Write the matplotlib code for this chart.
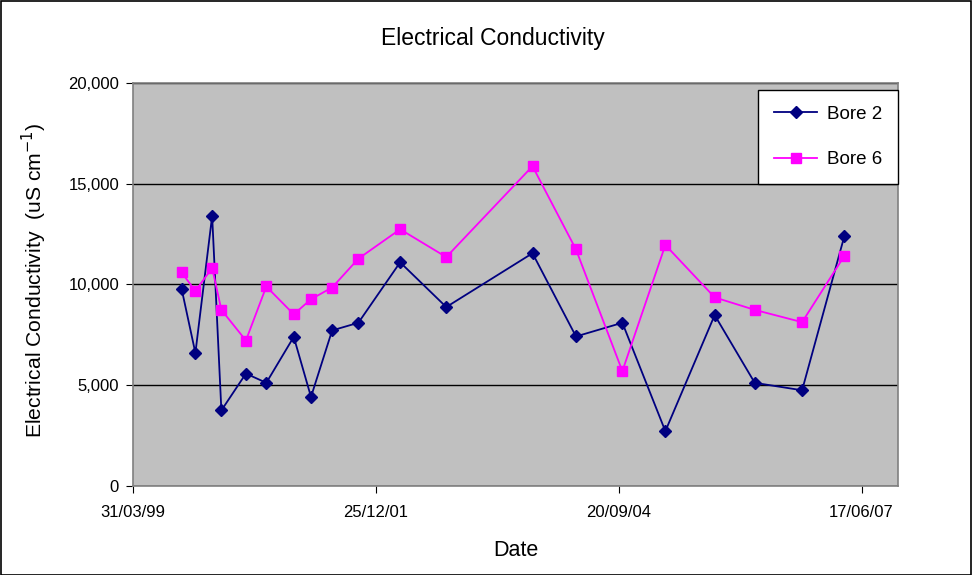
import numpy as np
import pandas as pd
import matplotlib
matplotlib.use("Agg")
import matplotlib.pyplot as plt
import matplotlib.dates as mdates
from matplotlib.ticker import FuncFormatter, FixedLocator

plt.rcParams['font.family'] = ['Liberation Sans', 'DejaVu Sans']

# Sampling dates and EC readings (uS/cm) for the two bores
dates = ["1999-10-17", "1999-12-13", "2000-02-20", "2000-03-29", "2000-07-08",
         "2000-09-30", "2001-01-21", "2001-04-02", "2001-06-28", "2001-10-14",
         "2002-04-04", "2002-10-11", "2003-10-01", "2004-03-28", "2004-10-05",
         "2005-03-31", "2005-10-20", "2006-04-03", "2006-10-15", "2007-04-07"]
bore2 = [9800, 6600, 13400, 3750, 5580, 5120, 7400, 4420, 7720, 8100,
         11100, 8880, 11550, 7420, 8100, 2720, 8480, 5120, 4750, 12400]
bore6 = [10600, 9680, 10820, 8740, 7220, 9900, 8520, 9270, 9850, 11280,
         12740, 11360, 15870, 11740, 5700, 11960, 9360, 8740, 8130, 11420]
tick_dates = ["1999-03-31", "2001-12-25", "2004-09-20", "2007-06-17"]

d = pd.to_datetime(dates)
ticks = mdates.date2num(pd.to_datetime(tick_dates))

fig = plt.figure(figsize=(9.72, 5.75), dpi=100)
fig.patches.append(plt.Rectangle((0.001, 0.0), 0.998, 0.998, transform=fig.transFigure,
                                 fill=False, edgecolor="black", linewidth=1.2))

ax = fig.add_axes([0.1368, 0.1548, 0.9239 - 0.1368, 0.8557 - 0.1548])
ax.set_facecolor("#C0C0C0")

ax.plot(d, bore2, color="#000080", marker="D", markersize=6.5, linewidth=1.3,
        label="Bore 2", zorder=3)
ax.plot(d, bore6, color="#FF00FF", marker="s", markersize=7, linewidth=1.3,
        label="Bore 6", zorder=3)

ax.set_xlim(mdates.date2num(pd.Timestamp("1999-03-31")), mdates.date2num(pd.Timestamp("2007-11-14")))
ax.set_ylim(0, 20000)
ax.xaxis.set_major_locator(FixedLocator(ticks))
ax.xaxis.set_major_formatter(mdates.DateFormatter("%d/%m/%y"))
ax.yaxis.set_major_locator(FixedLocator([0, 5000, 10000, 15000, 20000]))
ax.yaxis.set_major_formatter(FuncFormatter(lambda v, p: f"{int(v):,}"))

ax.grid(axis="y", color="black", linewidth=1.0)
ax.set_axisbelow(True)
for s in ax.spines.values():
    s.set_color("#808080")
    s.set_linewidth(1.2)

ax.tick_params(axis="both", labelsize=12, length=5, color="black")
ax.tick_params(axis="x", pad=9)
ax.tick_params(axis="y", pad=5)

# title centred over the whole chart, not just the plot area
fig.text(493 / 972, 1 - 38 / 575, "Electrical Conductivity", fontsize=16.5,
         ha="center", va="center")
ax.set_xlabel("Date", fontsize=15.5)
ax.xaxis.set_label_coords(0.5, -0.135)
ax.set_ylabel("Electrical Conductivity  (uS cm$^{-1}$)", fontsize=15.2)
ax.yaxis.set_label_coords(-0.110, 0.51)

leg = ax.legend(loc="upper right", bbox_to_anchor=(1.0, 0.983), fontsize=13.5,
                frameon=True, fancybox=False, edgecolor="black", framealpha=1,
                borderpad=0.85, labelspacing=1.5, handlelength=2.3,
                handletextpad=0.5, borderaxespad=0)
leg.get_frame().set_linewidth(1.0)

fig.savefig("out.png", dpi=100)
